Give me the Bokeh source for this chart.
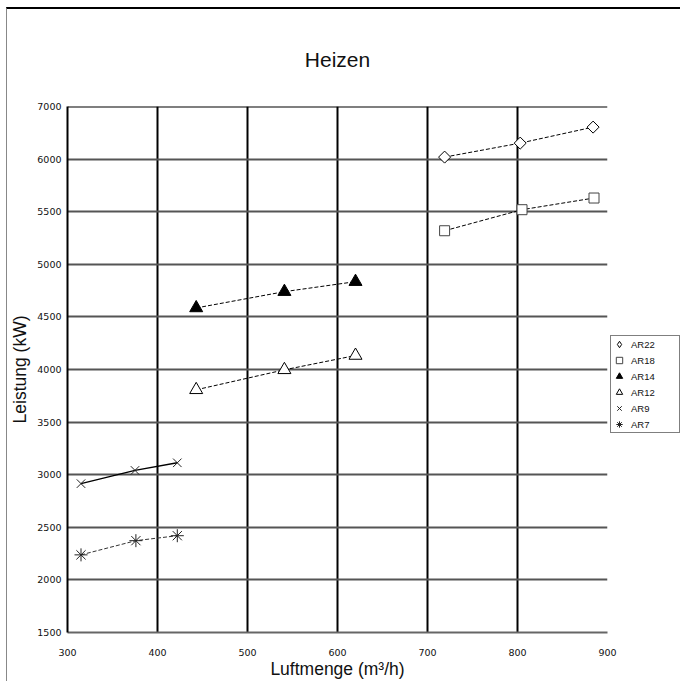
import math
from bokeh.plotting import figure
from bokeh.models import Range1d, FixedTicker, Legend, LegendItem, Span
from bokeh.embed import file_html
from bokeh.resources import INLINE

# ---- data ----
x_ticks = [300, 400, 500, 600, 700, 800, 900]
y_ticks = [1500, 2000, 2500, 3000, 3500, 4000, 4500, 5000, 5500, 6000, 6500]
y_tick_labels = ["1500", "2000", "2500", "3000", "3500", "4000", "4500",
                 "5000", "5500", "6000", "7000"]

series_names = ["AR22", "AR18", "AR14", "AR12", "AR9", "AR7"]
ar22_x = [719, 803, 884]
ar22_y = [6019, 6152, 6304]
ar18_x = [719, 805, 885]
ar18_y = [5319, 5519, 5630]
ar14_x = [443, 541, 620]
ar14_y = [4585, 4740, 4835]
ar12_x = [443, 541, 620]
ar12_y = [3807, 3997, 4133]
ar9_x = [315, 375, 422]
ar9_y = [2915, 3041, 3113]
ar7_x = [315, 376, 422]
ar7_y = [2238, 2373, 2420]

title_text = "Heizen"
x_label = "Luftmenge (m³/h)"
y_label = "Leistung (kW)"

LABF = "Liberation Sans"
TICKF = "DejaVu Sans"

p = figure(frame_width=540, frame_height=526,
           x_range=Range1d(300, 900), y_range=Range1d(1500, 6500),
           output_backend="svg", toolbar_location=None,
           min_border_left=60, min_border_right=72,
           min_border_top=97, min_border_bottom=44)
p.styles = {"margin-left": "6px", "margin-top": "7px",
            "border-top": "2px solid #000", "border-left": "1px solid #888"}
p.outline_line_color = None
p.background_fill_color = "white"
p.border_fill_color = "white"
# an off-screen range, used only so the legend can show a diamond swatch
p.extra_x_ranges = {"legend_only": Range1d(0, 1)}

# title
p.title.text = title_text
p.title.align = "center"
p.title.text_font = LABF
p.title.text_font_size = "21px"
p.title.text_font_style = "normal"
p.title.text_color = "#111"
p.title.standoff = 72

# axes
p.xaxis.ticker = FixedTicker(ticks=x_ticks)
p.yaxis.ticker = FixedTicker(ticks=y_ticks)
p.yaxis.major_label_overrides = {t: l for t, l in zip(y_ticks, y_tick_labels)}
for ax in (p.xaxis, p.yaxis):
    ax.major_tick_out = 0
    ax.major_tick_in = 0
    ax.minor_tick_out = 0
    ax.minor_tick_in = 0
    ax.major_label_text_font = TICKF
    ax.major_label_text_font_size = "9.5px"
    ax.major_label_text_color = "#111"
    ax.axis_label_text_font = LABF
    ax.axis_label_text_font_size = "17.5px"
    ax.axis_label_text_font_style = "normal"
    ax.axis_label_text_color = "#111"
p.xaxis.axis_label = x_label
p.yaxis.axis_label = y_label
p.xaxis.major_label_standoff = 16
p.xaxis.axis_label_standoff = 0
p.yaxis.major_label_standoff = 6
p.yaxis.axis_label_standoff = 4
p.xaxis.axis_line_color = "#666"
p.xaxis.axis_line_width = 2
p.yaxis.axis_line_color = "#000"
p.yaxis.axis_line_width = 2

# grids
p.xgrid.ticker = FixedTicker(ticks=x_ticks)
p.ygrid.ticker = FixedTicker(ticks=y_ticks)
p.xgrid.grid_line_color = "#000"
p.xgrid.grid_line_width = 2
p.ygrid.grid_line_color = "#555"
p.ygrid.grid_line_width = 2
p.add_layout(Span(location=6500, dimension="width", line_color="#000", line_width=2))

# series
dash = "4 2"
items = []

p.line(ar22_x, ar22_y, line_color="#000", line_width=1, line_dash=dash)
p.scatter(ar22_x, ar22_y, marker="square", size=8.5, angle=math.pi / 4,
          fill_color="white", line_color="#000", line_width=1)
r22 = p.scatter(ar22_x, ar22_y, marker="diamond", size=10, x_range_name="legend_only",
                fill_color="white", line_color="#000", line_width=1)
items.append(LegendItem(label=series_names[0], renderers=[r22]))

p.line(ar18_x, ar18_y, line_color="#000", line_width=1, line_dash=dash)
r18 = p.scatter(ar18_x, ar18_y, marker="square", size=10,
                fill_color="white", line_color="#444", line_width=1)
items.append(LegendItem(label=series_names[1], renderers=[r18]))

p.line(ar14_x, ar14_y, line_color="#000", line_width=1, line_dash=dash)
r14 = p.scatter(ar14_x, ar14_y, marker="triangle", size=13,
                fill_color="#000", line_color="#000", line_width=1)
items.append(LegendItem(label=series_names[2], renderers=[r14]))

p.line(ar12_x, ar12_y, line_color="#000", line_width=1, line_dash=dash)
r12 = p.scatter(ar12_x, ar12_y, marker="triangle", size=13,
                fill_color="white", line_color="#000", line_width=1)
items.append(LegendItem(label=series_names[3], renderers=[r12]))

p.line(ar9_x, ar9_y, line_color="#000", line_width=1.4)
r9 = p.scatter(ar9_x, ar9_y, marker="x", size=12,
               line_color="#222", line_width=1)
items.append(LegendItem(label=series_names[4], renderers=[r9]))

p.line(ar7_x, ar7_y, line_color="#333", line_width=1, line_dash=dash)
r7 = p.scatter(ar7_x, ar7_y, marker="asterisk", size=13,
               line_color="#222", line_width=1)
items.append(LegendItem(label=series_names[5], renderers=[r7]))

legend = Legend(items=items, location=(3, 199),
                label_text_font=LABF, label_text_font_size="9.5px",
                label_text_color="#111",
                glyph_width=16, glyph_height=16, label_height=16,
                label_width=48, label_standoff=4, spacing=0, padding=0,
                margin=0, border_line_color="#000", border_line_width=1,
                background_fill_color="white", background_fill_alpha=1)
p.add_layout(legend, "right")

open("out.html", "w").write(file_html(p, INLINE))
